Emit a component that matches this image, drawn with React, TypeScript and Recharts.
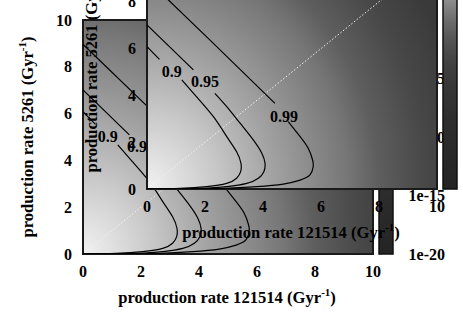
import React from "react"
import {
  ComposedChart,
  Line,
  XAxis,
  YAxis,
  CartesianGrid,
  ReferenceArea,
  ReferenceDot,
  Label,
} from "recharts"

// axis ticks (Gyr^-1)
const rateTicks = [0, 2, 4, 6, 8, 10]
// colorbar range and ticks, log10 of probability (labels only on every 5th)
const cbRange = [-20, 0]
const cbTicks = [
  -20, -19, -18, -17, -16, -15, -14, -13, -12, -11, -10, -9, -8, -7, -6, -5, -4, -3, -2, -1,
]

// contour lines, split where the level label sits
const c90Upper = [
  { x: 0, y: 6.08 },
  { x: 0.43, y: 5.54 },
]
const c90Lower = [
  { x: 1.2, y: 4.66 },
  { x: 1.71, y: 3.94 },
  { x: 2.29, y: 3.09 },
  { x: 2.75, y: 2.24 },
  { x: 3.09, y: 1.59 },
  { x: 3.24, y: 1.1 },
  { x: 3.23, y: 0.74 },
  { x: 3.09, y: 0.46 },
  { x: 2.75, y: 0.24 },
  { x: 2.06, y: 0.1 },
  { x: 1.14, y: 0.03 },
  { x: 0, y: 0.01 },
]
const c95Upper = [
  { x: 0, y: 7.01 },
  { x: 0.8, y: 6.05 },
  { x: 1.6, y: 5.09 },
]
const c95Lower = [
  { x: 2.34, y: 4.09 },
  { x: 2.75, y: 3.52 },
  { x: 3.21, y: 2.81 },
  { x: 3.67, y: 2.09 },
  { x: 3.96, y: 1.53 },
  { x: 4.07, y: 1.1 },
  { x: 4.03, y: 0.74 },
  { x: 3.84, y: 0.46 },
  { x: 3.44, y: 0.24 },
  { x: 2.75, y: 0.1 },
  { x: 1.83, y: 0.03 },
  { x: 0, y: 0.01 },
]
const c99Upper = [
  { x: 0, y: 8.96 },
  { x: 2.2, y: 6.33 },
  { x: 4.41, y: 3.66 },
]
const c99Lower = [
  { x: 4.87, y: 2.88 },
  { x: 5.28, y: 2.24 },
  { x: 5.56, y: 1.74 },
  { x: 5.71, y: 1.24 },
  { x: 5.73, y: 0.95 },
  { x: 5.62, y: 0.6 },
  { x: 5.28, y: 0.38 },
  { x: 4.7, y: 0.21 },
  { x: 3.78, y: 0.1 },
  { x: 2.63, y: 0.03 },
  { x: 1.48, y: 0.01 },
  { x: 0, y: 0.01 },
]
const levelLabels = [
  { x: 0.85, y: 5.01, text: "0.9" },
  { x: 2.0, y: 4.59, text: "0.95" },
  { x: 4.72, y: 3.12, text: "0.99" },
]
const diagonal = [
  { x: 0, y: 0 },
  { x: 10, y: 10 },
]

const FONT = "'Liberation Serif', 'Times New Roman', serif"
const tickStyle = { fill: "#000", fontSize: 16, fontWeight: 700, fontFamily: FONT }
const titleStyle = { ...tickStyle, fontSize: 16.6 }

const cbData = cbRange.map((v) => ({ x: 0.5, v }))

function fmtCb(v: number): string {
  if (v % 5 !== 0) return ""
  return v === 0 ? "1" : `1e${v}`
}

function XTitle({ viewBox }: any) {
  const cx = viewBox.x + viewBox.width / 2 - 1
  const y = viewBox.y + 49
  return (
    <text x={cx} y={y} textAnchor="middle" style={titleStyle}>
      production rate 121514 (Gyr
      <tspan dy={-7} fontSize={11}>-1</tspan>
      <tspan dy={7}>)</tspan>
    </text>
  )
}

function YTitle({ viewBox }: any) {
  const cx = viewBox.x + 10
  const cy = viewBox.y + viewBox.height / 2
  return (
    <text
      x={cx}
      y={cy}
      textAnchor="middle"
      transform={`rotate(-90, ${cx}, ${cy})`}
      style={titleStyle}
    >
      production rate 5261 (Gyr
      <tspan dy={-7} fontSize={11}>-1</tspan>
      <tspan dy={7}>)</tspan>
    </text>
  )
}

function Panel({ dx, dy, id }: { dx: number; dy: number; id: string }) {
  const contour = (data: { x: number; y: number }[], key: string) => (
    <Line
      key={key}
      data={data}
      dataKey="y"
      type="natural"
      stroke="#000"
      strokeWidth={1.2}
      dot={false}
      activeDot={false}
      isAnimationActive={false}
    />
  )
  return (
    <div style={{ position: "absolute", left: dx, top: dy, width: 463, height: 324 }}>
      <div style={{ position: "absolute", left: 0, top: 0 }}>
        <ComposedChart
          width={463}
          height={324}
          margin={{ top: 20, right: 90, bottom: 20, left: 23 }}
        >
          <defs>
            <radialGradient
              id={`bg-${id}`}
              cx={0}
              cy={1}
              r={1.4}
              gradientTransform="matrix(0.8 0 0 1.1 0 -0.1)"
            >
              <stop offset="0" stopColor="#f2f2f2" />
              <stop offset="0.214" stopColor="#c8c8c8" />
              <stop offset="0.39" stopColor="#a2a2a2" />
              <stop offset="0.536" stopColor="#868686" />
              <stop offset="0.62" stopColor="#767676" />
              <stop offset="0.714" stopColor="#5e5e5e" />
              <stop offset="0.857" stopColor="#484848" />
              <stop offset="1" stopColor="#3a3a3a" />
            </radialGradient>
          </defs>
          <XAxis
            dataKey="x"
            type="number"
            domain={[0, 10]}
            ticks={rateTicks}
            allowDataOverflow
            axisLine={false}
            tickLine={false}
            tickMargin={6}
            tick={tickStyle}
            height={50}
          >
            <Label content={XTitle} />
          </XAxis>
          <YAxis
            type="number"
            domain={[0, 10]}
            ticks={rateTicks}
            allowDataOverflow
            axisLine={false}
            tickLine={false}
            tickMargin={5}
            tick={tickStyle}
            width={60}
          >
            <Label content={YTitle} />
          </YAxis>
          <ReferenceArea x1={0} x2={10} y1={0} y2={10} fill={`url(#bg-${id})`} fillOpacity={1} stroke="none" />
          <Line
            data={diagonal}
            dataKey="y"
            type="linear"
            stroke="#f4f4f4"
            strokeWidth={1}
            strokeDasharray="1.5 2"
            dot={false}
            activeDot={false}
            isAnimationActive={false}
          />
          {contour(c90Upper, "a")}
          {contour(c90Lower, "b")}
          {contour(c95Upper, "c")}
          {contour(c95Lower, "d")}
          {contour(c99Upper, "e")}
          {contour(c99Lower, "f")}
          {levelLabels.map((l) => (
            <ReferenceDot
              key={l.text}
              x={l.x}
              y={l.y}
              r={0}
              fill="none"
              stroke="none"
              label={{
                value: l.text,
                position: "center",
                fill: "#000",
                fontSize: 16,
                fontWeight: 700,
                fontFamily: FONT,
              }}
            />
          ))}
          <ReferenceArea x1={0} x2={10} y1={0} y2={10} fill="none" stroke="#1a1a1a" strokeWidth={2} />
        </ComposedChart>
      </div>
      <div style={{ position: "absolute", left: 0, top: 0 }}>
        <ComposedChart
          width={463}
          height={324}
          data={cbData}
          margin={{ top: 20, right: 11, bottom: 70, left: 379 }}
        >
          <defs>
            <linearGradient id={`cb-${id}`} x1="0" y1="0" x2="0" y2="1">
              <stop offset="0" stopColor="#e4e4e4" />
              <stop offset="0.1" stopColor="#b8b8b8" />
              <stop offset="0.19" stopColor="#8e8e8e" />
              <stop offset="0.28" stopColor="#6c6c6c" />
              <stop offset="0.36" stopColor="#565656" />
              <stop offset="0.45" stopColor="#444444" />
              <stop offset="0.55" stopColor="#383838" />
              <stop offset="0.7" stopColor="#2e2e2e" />
              <stop offset="1" stopColor="#242424" />
            </linearGradient>
          </defs>
          <XAxis dataKey="x" type="number" domain={[0, 1]} hide height={0} />
          <YAxis
            orientation="right"
            type="number"
            domain={cbRange}
            ticks={cbTicks}
            axisLine={false}
            tickLine={false}
            tickSize={6}
            tickMargin={46}
            tick={{ ...tickStyle, textAnchor: "end" }}
            tickFormatter={fmtCb}
            interval={0}
            width={59}
          />
          <Line
            dataKey="v"
            stroke="none"
            dot={false}
            activeDot={false}
            isAnimationActive={false}
          />
          <ReferenceArea
            x1={0}
            x2={1}
            y1={cbRange[0]}
            y2={cbRange[1]}
            fill={`url(#cb-${id})`}
            fillOpacity={1}
            stroke="none"
          />
          <CartesianGrid vertical={false} stroke="#8a8a8a" strokeWidth={1} strokeDasharray="3 9 3" />
          <ReferenceArea
            x1={0}
            x2={1}
            y1={cbRange[0]}
            y2={cbRange[1]}
            fill="none"
            stroke="#111"
            strokeWidth={1.5}
          />
        </ComposedChart>
      </div>
    </div>
  )
}

export default function App() {
  return (
    <div
      style={{
        position: "absolute",
        left: 0,
        top: 0,
        width: 463,
        height: 324,
        overflow: "hidden",
        background: "#fff",
      }}
    >
      <Panel dx={0} dy={0} id="outer" />
      <Panel dx={64} dy={-65} id="inset" />
    </div>
  )
}
